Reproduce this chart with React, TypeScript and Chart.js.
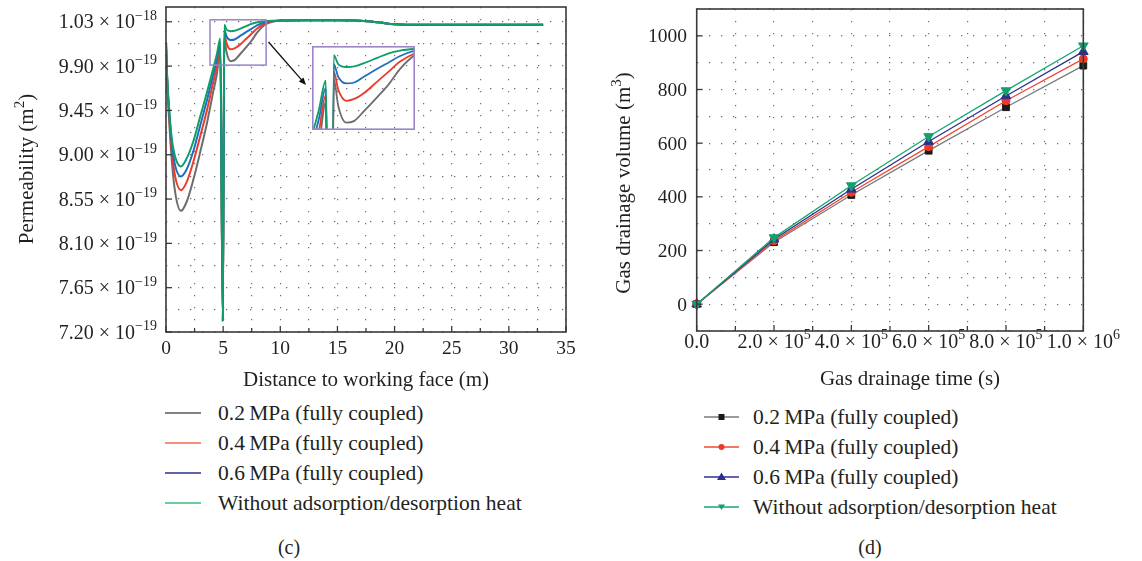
import React, { useEffect, useRef } from "react";
import { Chart, registerables } from "chart.js";
Chart.register(...registerables);

const FONT = '"Liberation Serif", "Times New Roman", serif';
const TEXT = "#231f20";

// ---------- (c) Permeability vs distance (units of 1e-19 m^2) ----------
const DIST_M = [0, 0.1, 0.3, 0.5, 0.8, 1.3, 1.8, 2.4, 3.0, 3.6, 4.1, 4.45, 4.75, 4.97, 5.1, 5.3, 5.65, 6.0, 6.4, 7.0, 7.5, 8.0, 8.65, 9.3, 10, 12, 15, 17, 18.5, 20, 21, 25, 30, 33];
const PERM_02 = [10.14, 9.75, 9.30, 8.95, 8.62, 8.43, 8.52, 8.75, 9.03, 9.33, 9.62, 9.82, 10.06, 7.31, 10.19, 10.04, 9.95, 9.96, 10.01, 10.09, 10.16, 10.245, 10.32, 10.35, 10.362, 10.365, 10.365, 10.36, 10.345, 10.325, 10.32, 10.32, 10.32, 10.32];
const PERM_04 = [10.14, 9.77, 9.36, 9.05, 8.78, 8.64, 8.72, 8.93, 9.19, 9.46, 9.72, 9.90, 10.10, 7.31, 10.23, 10.13, 10.07, 10.08, 10.11, 10.175, 10.23, 10.285, 10.33, 10.355, 10.362, 10.365, 10.365, 10.36, 10.345, 10.325, 10.32, 10.32, 10.32, 10.32];
const PERM_06 = [10.14, 9.78, 9.40, 9.12, 8.89, 8.78, 8.85, 9.04, 9.30, 9.56, 9.80, 9.97, 10.14, 7.31, 10.27, 10.20, 10.165, 10.17, 10.20, 10.245, 10.28, 10.315, 10.345, 10.358, 10.362, 10.365, 10.365, 10.36, 10.345, 10.325, 10.32, 10.32, 10.32, 10.32];
const PERM_WO = [10.14, 9.80, 9.43, 9.17, 8.98, 8.88, 8.96, 9.14, 9.39, 9.64, 9.86, 10.02, 10.18, 7.31, 10.32, 10.27, 10.255, 10.258, 10.275, 10.305, 10.33, 10.345, 10.355, 10.36, 10.362, 10.365, 10.365, 10.36, 10.345, 10.325, 10.32, 10.32, 10.32, 10.32];

const SERIES_LABELS = ["0.2\u2009MPa (fully coupled)", "0.4\u2009MPa (fully coupled)", "0.6\u2009MPa (fully coupled)", "Without adsorption/desorption heat"];

const C_X_TICKS = [0, 5, 10, 15, 20, 25, 30, 35];
const C_X_GRID = [0, 2.5, 5, 7.5, 10, 12.5, 15, 17.5, 20, 22.5, 25, 27.5, 30, 32.5, 35];
const C_Y_TICKS = [7.2, 7.65, 8.1, 8.55, 9.0, 9.45, 9.9, 10.35];
const C_Y_MANT = ["7.20", "7.65", "8.10", "8.55", "9.00", "9.45", "9.90", "1.03"];
const C_Y_EXP = ["−19", "−19", "−19", "−19", "−19", "−19", "−19", "−18"];
const C_Y_GRID = [7.2, 7.425, 7.65, 7.875, 8.1, 8.325, 8.55, 8.775, 9.0, 9.225, 9.45, 9.675, 9.9, 10.125, 10.35];
const C_ZOOM_BOX_X = [3.85, 8.76];
const C_ZOOM_BOX_Y = [9.91, 10.37];
const C_INSET_X = [4.15, 8.65];
const C_INSET_Y = [9.91, 10.37];

// ---------- (d) Gas drainage volume vs time ----------
const TIME_S = [0, 200000, 400000, 600000, 800000, 1000000];
const VOL_02 = [0, 231, 407, 572, 734, 889];
const VOL_04 = [0, 236, 417, 587, 758, 914];
const VOL_06 = [0, 242, 428, 606, 776, 941];
const VOL_WO = [0, 248, 442, 625, 796, 963];

const D_X_TICKS = [0, 200000, 400000, 600000, 800000, 1000000];
const D_X_MANT = ["0.0", "2.0", "4.0", "6.0", "8.0", "1.0"];
const D_X_EXP = ["", "5", "5", "5", "5", "6"];
const D_X_GRID = [0, 100000, 200000, 300000, 400000, 500000, 600000, 700000, 800000, 900000, 1000000];
const D_Y_TICKS = [0, 200, 400, 600, 800, 1000];
const D_Y_GRID = [-100, 0, 100, 200, 300, 400, 500, 600, 700, 800, 900, 1000, 1100];

const C_COLORS = ["#6d6d6d", "#ec3b2c", "#1d6fc0", "#0f9d6a"];
const C_LEGEND_COLORS = ["#5a5a5a", "#f26b55", "#2b2f8f", "#3dbb7b"];
const D_LINE_COLORS = ["#7a7a7a", "#ee4a33", "#2e2f8f", "#17a673"];
const D_POINT_COLORS = ["#1a1a1a", "#ee3a24", "#2e2f8f", "#14a06c"];

type Part = { t: string; sup?: boolean };
function drawMixed(ctx: CanvasRenderingContext2D, parts: Part[], x: number, y: number, align: string, size: number) {
  const supSize = Math.round(size * 0.7);
  const widths = parts.map((p) => {
    ctx.font = `${p.sup ? supSize : size}px ${FONT}`;
    return ctx.measureText(p.t).width;
  });
  const total = widths.reduce((a, b) => a + b, 0);
  let cx = align === "left" ? x : align === "right" ? x - total : x - total / 2;
  const base = y + size * 0.33;
  ctx.textBaseline = "alphabetic";
  ctx.textAlign = "left";
  parts.forEach((p, i) => {
    ctx.font = `${p.sup ? supSize : size}px ${FONT}`;
    ctx.fillText(p.t, cx, p.sup ? base - size * 0.42 : base);
    cx += widths[i];
  });
}

function gridScale(values: number[], min: number, max: number, fitKey: "width" | "height", fitVal: number) {
  return {
    type: "linear" as const,
    min,
    max,
    afterBuildTicks: (s: any) => {
      s.ticks = values.map((v) => ({ value: v }));
    },
    afterFit: (s: any) => {
      s[fitKey] = fitVal;
    },
    ticks: { display: false },
    grid: { color: "#6e6e6e", lineWidth: 1.2, drawTicks: false },
    border: { display: false, dash: [1.3, 10.7] },
  };
}

export default function App() {
  const cRef = useRef<HTMLCanvasElement>(null);
  const insetRef = useRef<HTMLCanvasElement>(null);
  const dRef = useRef<HTMLCanvasElement>(null);

  useEffect(() => {
    const charts: Chart[] = [];
    const permSeries = [PERM_02, PERM_04, PERM_06, PERM_WO];
    const makePermSets = (bw: number, clip: any) =>
      permSeries.map((vals, i) => ({
        label: SERIES_LABELS[i],
        data: DIST_M.map((x, j) => ({ x, y: vals[j] })),
        borderColor: C_COLORS[i],
        backgroundColor: C_COLORS[i],
        borderWidth: bw,
        pointRadius: 0,
        cubicInterpolationMode: "monotone" as const,
        order: 3 - i,
        clip,
      }));

    // ---- chart (c) ----
    const cDecor = {
      id: "cDecor",
      afterDraw(chart: any) {
        const { ctx, chartArea: a } = chart;
        const x = chart.scales.x;
        const y = chart.scales.y;
        ctx.save();
        // zoom box
        ctx.strokeStyle = "#9b85c7";
        ctx.lineWidth = 1.5;
        const bx0 = x.getPixelForValue(C_ZOOM_BOX_X[0]);
        const bx1 = x.getPixelForValue(C_ZOOM_BOX_X[1]);
        const by0 = y.getPixelForValue(C_ZOOM_BOX_Y[1]);
        const by1 = y.getPixelForValue(C_ZOOM_BOX_Y[0]);
        ctx.strokeRect(bx0, by0, bx1 - bx0, by1 - by0);
        // arrow
        const ax0 = 268.5, ay0 = 42, ax1 = 306, ay1 = 85;
        ctx.strokeStyle = "#111";
        ctx.fillStyle = "#111";
        ctx.lineWidth = 1.3;
        ctx.beginPath();
        ctx.moveTo(ax0, ay0);
        ctx.lineTo(ax1 - 4, ay1 - 4.6);
        ctx.stroke();
        const ang = Math.atan2(ay1 - ay0, ax1 - ax0);
        ctx.beginPath();
        ctx.moveTo(ax1, ay1);
        ctx.lineTo(ax1 - 8 * Math.cos(ang - 0.4), ay1 - 8 * Math.sin(ang - 0.4));
        ctx.lineTo(ax1 - 8 * Math.cos(ang + 0.4), ay1 - 8 * Math.sin(ang + 0.4));
        ctx.closePath();
        ctx.fill();
        // frame
        ctx.strokeStyle = "#3a3a3a";
        ctx.lineWidth = 1.6;
        ctx.strokeRect(a.left, a.top, a.right - a.left, a.bottom - a.top);
        // ticks (inward)
        ctx.lineWidth = 1.3;
        C_X_GRID.forEach((v) => {
          const px = x.getPixelForValue(v);
          const len = C_X_TICKS.includes(v) ? 6 : 4;
          ctx.beginPath();
          ctx.moveTo(px, a.bottom);
          ctx.lineTo(px, a.bottom - len);
          ctx.stroke();
        });
        C_Y_TICKS.forEach((v) => {
          const py = y.getPixelForValue(v);
          ctx.beginPath();
          ctx.moveTo(a.left, py);
          ctx.lineTo(a.left + 6, py);
          ctx.stroke();
        });
        // tick labels
        ctx.fillStyle = TEXT;
        C_X_TICKS.forEach((v) => drawMixed(ctx, [{ t: String(v) }], x.getPixelForValue(v), 348, "center", 19.5));
        C_Y_TICKS.forEach((v, i) =>
          drawMixed(ctx, [{ t: C_Y_MANT[i] + " × 10" }, { t: C_Y_EXP[i], sup: true }], 157, y.getPixelForValue(v), "right", 20)
        );
        // titles
        drawMixed(ctx, [{ t: "Distance to working face (m)" }], (a.left + a.right) / 2, 379, "center", 21);
        ctx.translate(26, 169);
        ctx.rotate(-Math.PI / 2);
        drawMixed(ctx, [{ t: "Permeability (m" }, { t: "2", sup: true }, { t: ")" }], 0, 0, "center", 21);
        ctx.restore();
      },
    };

    if (cRef.current) {
      charts.push(
        new Chart(cRef.current, {
          type: "line",
          data: { datasets: makePermSets(2, undefined) as any },
          options: {
            animation: false,
            responsive: false,
            devicePixelRatio: 1,
            layout: { padding: { left: 0, top: 7, right: 590 - 566, bottom: 0 } },
            plugins: { legend: { display: false }, tooltip: { enabled: false } },
            scales: {
              x: gridScale(C_X_GRID, 0, 35, "height", 400 - 332) as any,
              y: gridScale(C_Y_GRID, 7.2, 10.5, "width", 166) as any,
            },
          },
          plugins: [cDecor],
        })
      );
    }

    const insetFrame = {
      id: "insetFrame",
      afterDraw(chart: any) {
        const { ctx, chartArea: a } = chart;
        ctx.save();
        ctx.strokeStyle = "#9b85c7";
        ctx.lineWidth = 1.6;
        ctx.strokeRect(a.left + 0.8, a.top + 0.8, a.right - a.left - 1.6, a.bottom - a.top - 1.6);
        ctx.restore();
      },
    };
    if (insetRef.current) {
      charts.push(
        new Chart(insetRef.current, {
          type: "line",
          data: { datasets: makePermSets(1.8, 0) as any },
          options: {
            animation: false,
            responsive: false,
            devicePixelRatio: 1,
            layout: { padding: 0 },
            plugins: { legend: { display: false }, tooltip: { enabled: false } },
            scales: {
              x: { type: "linear", min: C_INSET_X[0], max: C_INSET_X[1], display: false },
              y: { type: "linear", min: C_INSET_Y[0], max: C_INSET_Y[1], display: false },
            },
          },
          plugins: [insetFrame],
        })
      );
    }

    // ---- chart (d) ----
    const dDecor = {
      id: "dDecor",
      afterDraw(chart: any) {
        const { ctx, chartArea: a } = chart;
        const x = chart.scales.x;
        const y = chart.scales.y;
        ctx.save();
        ctx.strokeStyle = "#3a3a3a";
        ctx.lineWidth = 1.6;
        ctx.strokeRect(a.left, a.top, a.right - a.left, a.bottom - a.top);
        ctx.lineWidth = 1.3;
        D_X_GRID.forEach((v) => {
          const px = x.getPixelForValue(v);
          const len = D_X_TICKS.includes(v) ? 6 : 5;
          ctx.beginPath();
          ctx.moveTo(px, a.bottom);
          ctx.lineTo(px, a.bottom - len);
          ctx.stroke();
        });
        D_Y_TICKS.forEach((v) => {
          const py = y.getPixelForValue(v);
          ctx.beginPath();
          ctx.moveTo(a.left, py);
          ctx.lineTo(a.left + 6, py);
          ctx.stroke();
        });
        ctx.fillStyle = TEXT;
        D_X_TICKS.forEach((v, i) => {
          const parts: Part[] = D_X_EXP[i] ? [{ t: D_X_MANT[i] + " × 10" }, { t: D_X_EXP[i], sup: true }] : [{ t: D_X_MANT[i] }];
          drawMixed(ctx, parts, x.getPixelForValue(v), 341, "center", 20);
        });
        D_Y_TICKS.forEach((v) => drawMixed(ctx, [{ t: String(v) }], 97, y.getPixelForValue(v), "right", 19.5));
        drawMixed(ctx, [{ t: "Gas drainage time (s)" }], 320, 378, "center", 21);
        ctx.translate(33, 183);
        ctx.rotate(-Math.PI / 2);
        drawMixed(ctx, [{ t: "Gas drainage volume (m" }, { t: "3", sup: true }, { t: ")" }], 0, 0, "center", 21);
        ctx.restore();
      },
    };

    const volSeries = [VOL_02, VOL_04, VOL_06, VOL_WO];
    const pStyles = ["rect", "circle", "triangle", "triangle"];
    const pRadius = [4.8, 4, 5.6, 5.6];
    const pRot = [0, 0, 0, 180];
    if (dRef.current) {
      charts.push(
        new Chart(dRef.current, {
          type: "line",
          data: {
            datasets: volSeries.map((vals, i) => ({
              label: SERIES_LABELS[i],
              data: TIME_S.map((t, j) => ({ x: t, y: vals[j] })),
              borderColor: D_LINE_COLORS[i],
              backgroundColor: D_POINT_COLORS[i],
              pointBackgroundColor: D_POINT_COLORS[i],
              pointBorderColor: D_POINT_COLORS[i],
              pointBorderWidth: 1,
              borderWidth: 1.3,
              pointStyle: pStyles[i],
              pointRadius: pRadius[i],
              pointRotation: pRot[i],
              tension: 0,
              order: 3 - i,
              clip: false,
            })) as any,
          },
          options: {
            animation: false,
            responsive: false,
            devicePixelRatio: 1,
            layout: { padding: { left: 0, top: 9, right: 552 - 493.3, bottom: 0 } },
            plugins: { legend: { display: false }, tooltip: { enabled: false } },
            scales: {
              x: gridScale(D_X_GRID, 0, 1000000, "height", 400 - 331) as any,
              y: gridScale(D_Y_GRID, -100, 1100, "width", 106.7) as any,
            },
          },
          plugins: [dDecor],
        })
      );
    }
    return () => charts.forEach((c) => c.destroy());
  }, []);

  const legendText = (left: number, cy: number, text: string, key: string) => (
    <div
      key={key}
      style={{ position: "absolute", left, top: cy - 13, height: 26, lineHeight: "26px", fontSize: 21.5, whiteSpace: "nowrap", color: TEXT, fontFamily: FONT }}
    >
      {text}
    </div>
  );
  const cRows = [413, 443, 473, 503];
  const dRows = [417, 447, 477, 507];

  const marker = (i: number) => {
    const c = D_POINT_COLORS[i];
    if (i === 0) return <rect x={14.5} y={3} width={6} height={6} fill={c} />;
    if (i === 1) return <circle cx={17.5} cy={6} r={3} fill={c} />;
    if (i === 2) return <polygon points="17.5,1.5 22,9 13,9" fill={c} />;
    return <polygon points="14,3.5 21,3.5 17.5,9" fill={c} />;
  };

  return (
    <div style={{ position: "absolute", left: 0, top: 0, width: 1142, height: 561, background: "#fff", overflow: "hidden", fontFamily: FONT, color: TEXT }}>
      <canvas ref={cRef} width={590} height={400} style={{ position: "absolute", left: 0, top: 0, width: 590, height: 400 }} />
      <canvas ref={insetRef} width={103} height={84} style={{ position: "absolute", left: 312, top: 46, width: 103, height: 84 }} />
      <canvas ref={dRef} width={552} height={400} style={{ position: "absolute", left: 590, top: 0, width: 552, height: 400 }} />

      {cRows.map((cy, i) => (
        <svg key={"cl" + i} width={36} height={12} style={{ position: "absolute", left: 165, top: cy - 6 }}>
          <line x1={0} y1={6} x2={36} y2={6} stroke={C_LEGEND_COLORS[i]} strokeWidth={1.6} />
        </svg>
      ))}
      {cRows.map((cy, i) => legendText(218, cy, SERIES_LABELS[i], "ct" + i))}

      {dRows.map((cy, i) => (
        <svg key={"dl" + i} width={36} height={12} style={{ position: "absolute", left: 704, top: cy - 6 }}>
          <line x1={0} y1={6} x2={35} y2={6} stroke={D_LINE_COLORS[i]} strokeWidth={1.6} />
          {marker(i)}
        </svg>
      ))}
      {dRows.map((cy, i) => legendText(753, cy, SERIES_LABELS[i], "dt" + i))}

      <div style={{ position: "absolute", left: 0, width: 578, top: 534, lineHeight: "26px", fontSize: 20, textAlign: "center", color: TEXT }}>(c)</div>
      <div style={{ position: "absolute", left: 820, width: 100, top: 534, lineHeight: "26px", fontSize: 20, textAlign: "center", color: TEXT }}>(d)</div>
    </div>
  );
}
